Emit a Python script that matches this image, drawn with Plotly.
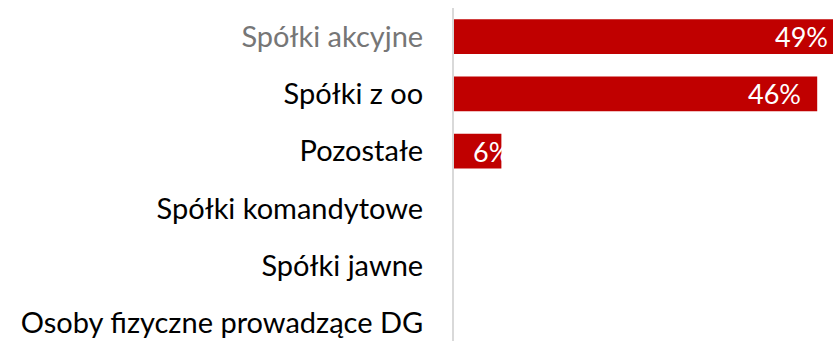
import plotly.graph_objects as go

# Share of entities by legal form (percent)
categories = [
    "Spółki akcyjne",
    "Spółki z oo",
    "Pozostałe",
    "Spółki komandytowe",
    "Spółki jawne",
    "Osoby fizyczne prowadzące DG",
]
values = [49, 46, 6, 0, 0, 0]
label_colors = ["#767676", "#000000", "#000000", "#000000", "#000000", "#000000"]

BAR_COLOR = "#C00000"
FONT = "Lato"
XMAX = 48  # visible end of the value axis

tick_text = [
    f"<span style='color:{c}'>{name}</span>" for name, c in zip(categories, label_colors)
]

fig = go.Figure(
    go.Bar(
        x=values,
        y=categories,
        orientation="h",
        marker=dict(color=BAR_COLOR, line=dict(width=0)),
        hoverinfo="skip",
    )
)

# value labels inside the bars
for cat, v in zip(categories, values):
    if v <= 0:
        continue
    label = f"{v}%"
    if v >= XMAX:
        ann = dict(x=XMAX - 0.01, xanchor="right", xshift=-3)
    elif v > 10:
        ann = dict(x=v, xanchor="right", xshift=-14)
    else:
        ann = dict(x=0, xanchor="left", xshift=17)
    fig.add_annotation(
        y=cat,
        text=label,
        showarrow=False,
        yanchor="middle",
        font=dict(family=FONT, size=27, color="white"),
        **ann,
    )

fig.update_layout(
    width=833,
    height=341,
    margin=dict(l=454, r=0, t=8, b=0),
    paper_bgcolor="white",
    plot_bgcolor="white",
    bargap=0.39,
    showlegend=False,
    font=dict(family=FONT, size=29, color="#000000"),
)

fig.update_xaxes(
    range=[0, XMAX],
    visible=False,
    fixedrange=True,
)
fig.update_yaxes(
    categoryorder="array",
    categoryarray=categories,
    range=[5.317, -0.5],
    tickmode="array",
    tickvals=categories,
    ticktext=tick_text,
    showgrid=False,
    zeroline=False,
    showline=True,
    linecolor="#D9D9D9",
    linewidth=2,
    ticks="",
    ticklabelstandoff=23,
    tickfont=dict(family=FONT, size=29),
    fixedrange=True,
)

fig.write_html("out.html", include_plotlyjs=True, config={"displayModeBar": False})
